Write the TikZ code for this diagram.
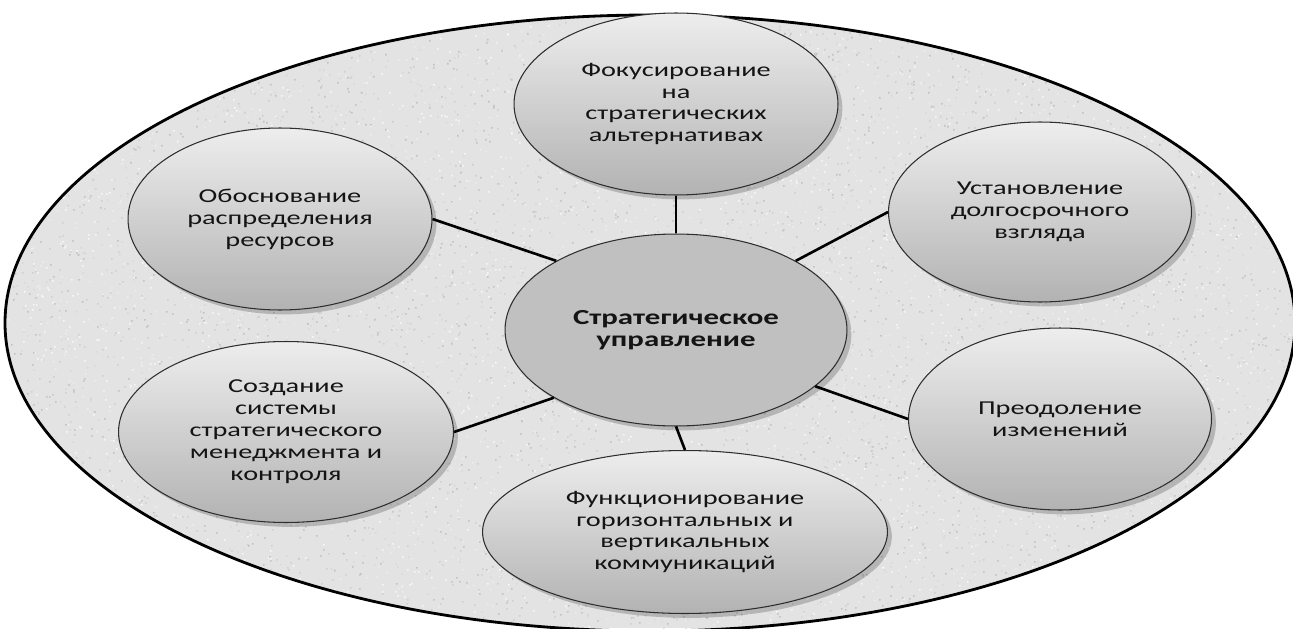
\documentclass[tikz,border=0pt]{standalone}
\usepackage{fontspec}
\setmainfont{Carlito}[FakeStretch=1.44]
\usetikzlibrary{shapes.geometric,shadows}
\definecolor{fieldgray}{HTML}{E3E3E3}
\definecolor{inkline}{HTML}{2E2E2E}
\definecolor{coregray}{HTML}{C0C0C0}

\begin{document}
\begin{tikzpicture}[x=0.02cm,y=-0.02cm,
  every node/.style={font=\fontsize{11.2}{12.5}\selectfont, text=black!92, align=center},
  petal/.style={ellipse, draw=inkline, line width=0.6pt, inner sep=0pt,
    top color=black!7, bottom color=black!30,
    drop shadow={shadow xshift=2.5pt, shadow yshift=-2.5pt, opacity=0.2, fill=black}},
  hub/.style={ellipse, draw=inkline, line width=0.6pt, inner sep=0pt, fill=coregray,
    font=\fontsize{12.2}{12.6}\selectfont\bfseries,
    drop shadow={shadow xshift=2.5pt, shadow yshift=-2.5pt, opacity=0.2, fill=black}},
  spoke/.style={line width=1.5pt, draw=black}]

\useasboundingbox (0,0) rectangle (1293,628);
\clip (0,0) rectangle (1293,628);
\fill[white] (0,0) rectangle (1293,628);

% background field with a fine granite-like speckle
\begin{scope}
  \clip (650,323) ellipse [x radius=645, y radius=308];
  \fill[fieldgray] (0,0) rectangle (1293,628);
  \pgfmathsetseed{42}
  \foreach \g in {3,7,11,15,19,24}{
    \foreach \j in {1,...,8}{
      \fill[black!\g] \foreach \k in {1,...,250}{
        ({random(0,1293)},{random(0,628)}) rectangle ++(1.6,1.6)
      };
    }
  }
\end{scope}
\draw[line width=1.6pt, black] (650,323) ellipse [x radius=645, y radius=308];

% central node and the six surrounding ellipses
\node[hub, minimum width=6.84cm, minimum height=3.84cm] (core) at (676,330)
  {Стратегическое\\управление};
\node[petal, minimum width=6.48cm, minimum height=3.64cm] (foc) at (676,104)
  {Фокусирование\\на\\стратегических\\альтернативах};
\node[petal, minimum width=6.08cm, minimum height=3.64cm] (res) at (280,219)
  {Обоснование\\распределения\\ресурсов};
\node[petal, minimum width=6.06cm, minimum height=3.60cm] (ust) at (1040,212)
  {Установление\\долгосрочного\\взгляда};
\node[petal, minimum width=6.06cm, minimum height=3.64cm] (pre) at (1060,419)
  {Преодоление\\изменений};
\node[petal, minimum width=8.10cm, minimum height=3.26cm] (fun) at (685,532)
  {Функционирование\\горизонтальных и\\вертикальных\\коммуникаций};
\node[petal, minimum width=6.70cm, minimum height=3.62cm] (soz) at (286,432)
  {Создание\\системы\\стратегического\\менеджмента и\\контроля};

% spokes
\draw[spoke] (foc.south) -- (core.north);
\draw[spoke] (res.east) -- (core.150);
\draw[spoke] (ust.west) -- (core.30);
\draw[spoke] (pre.west) -- (core.-22);
\draw[spoke] (fun.north) -- (core.south);
\draw[spoke] (soz.east) -- (core.209);
\end{tikzpicture}
\end{document}
